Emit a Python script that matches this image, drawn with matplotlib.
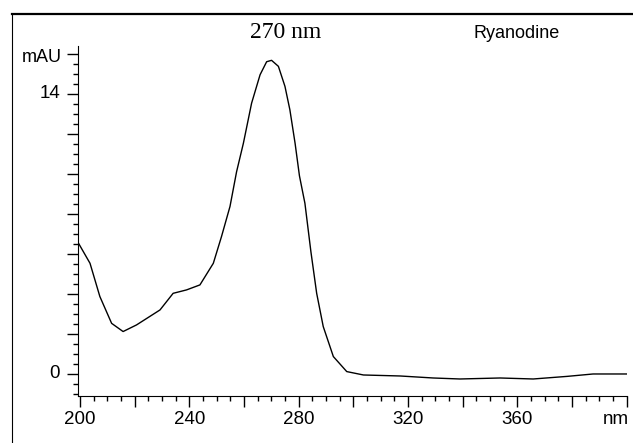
import matplotlib
matplotlib.use('Agg')
import matplotlib.pyplot as plt
from matplotlib.lines import Line2D
from matplotlib.ticker import MultipleLocator

plt.rcParams['font.family'] = ['Liberation Sans', 'DejaVu Sans']

# spectrum (wavelength nm, absorbance mAU)
wavelength = [199.5, 203.7, 207.3, 211.6, 215.8, 220.7, 229.3, 234.1, 239.0,
              243.9, 248.8, 251.8, 254.9, 257.3, 259.8, 262.8, 265.9, 268.3,
              270.1, 272.6, 275.0, 276.8, 278.7, 280.3, 282.3, 284.5, 286.6,
              289.0, 292.7, 297.6, 303.7, 317.1, 329.2, 339.0, 353.7, 365.8,
              378.2, 387.7, 400.0]
absorbance = [6.53, 5.53, 3.87, 2.53, 2.12, 2.45, 3.2, 4.03, 4.2,
              4.45, 5.53, 6.87, 8.37, 10.1, 11.53, 13.53, 14.95, 15.6,
              15.67, 15.37, 14.37, 13.2, 11.53, 9.9, 8.53, 6.1, 4.03,
              2.37, 0.87, 0.12, -0.05, -0.1, -0.2, -0.25, -0.2, -0.25,
              -0.12, 0.0, 0.0]

xtick_labels = [200, 240, 280, 320, 360]
ytick_labels = [0, 14]

fig = plt.figure(figsize=(6.33, 4.43), dpi=100)
ax = fig.add_axes([0.1232, 0.1061, 0.8673, 0.7907])

ax.plot(wavelength, absorbance, color='black', linewidth=1.0)

ax.set_xlim(199.3, 400.1)
ax.set_ylim(-1.1, 16.4)

ax.spines['top'].set_visible(False)
ax.spines['right'].set_visible(False)

ax.xaxis.set_major_locator(MultipleLocator(20))
ax.xaxis.set_minor_locator(MultipleLocator(5))
ax.yaxis.set_major_locator(MultipleLocator(2))
ax.yaxis.set_minor_locator(MultipleLocator(0.5))
ax.set_xticklabels([])
ax.set_yticklabels([])

ax.tick_params(axis='both', which='major', direction='out', length=8, width=1)
ax.tick_params(axis='both', which='minor', direction='out', length=3.6, width=1)

# labels only on some ticks, like the instrument print
for v in xtick_labels:
    ax.text(v, -1.85, str(v), ha='center', va='top', fontsize=13.5)
for v in ytick_labels:
    ax.text(192.8, v, str(v), ha='right', va='center', fontsize=13.5)
ax.text(396, -1.85, 'nm', ha='center', va='top', fontsize=13.5)
ax.text(193.5, 15.8, 'mAU', ha='right', va='center', fontsize=13)

ax.text(275.4, 17.05, '270 nm', ha='center', va='center', fontsize=17,
        family='Liberation Serif')
fig.text(517 / 633, 1 - 33 / 443, 'Ryanodine', ha='center', va='center',
         fontsize=13)

# outer frame of the printout
fig.add_artist(Line2D([12 / 633, 12 / 633], [0, 1 - 14 / 443],
                      color='black', linewidth=0.8, transform=fig.transFigure))
fig.add_artist(Line2D([12 / 633, 1], [1 - 14 / 443, 1 - 14 / 443],
                      color='black', linewidth=1.6, transform=fig.transFigure))

plt.savefig('out.png', dpi=100)
